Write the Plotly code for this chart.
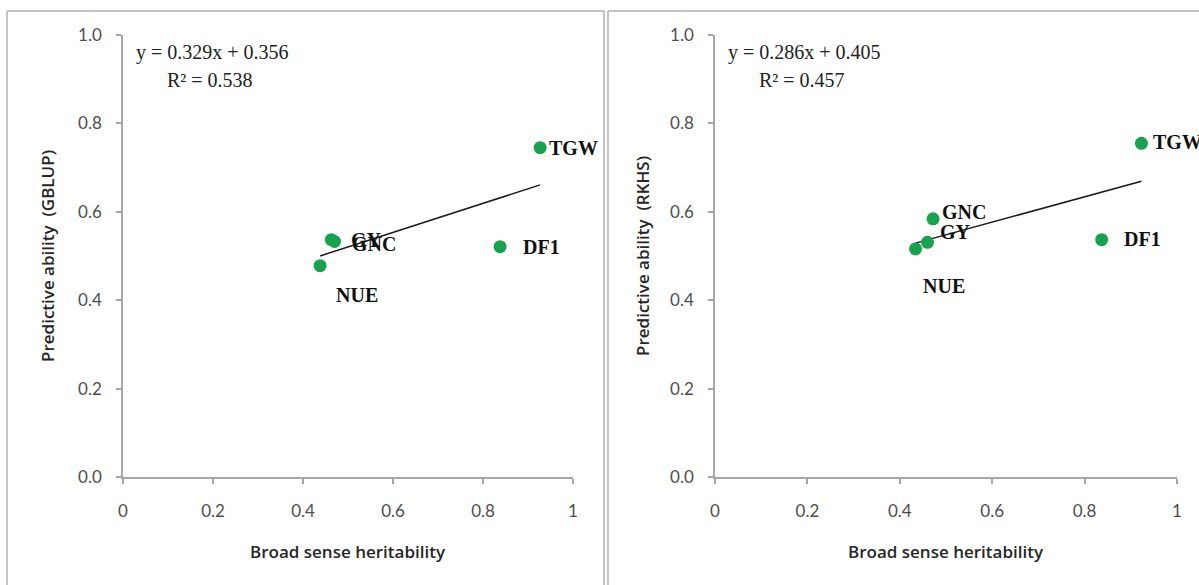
import plotly.graph_objects as go

# Trait names and values for each genomic prediction model
traits_gblup = ["NUE", "GY", "GNC", "DF1", "TGW"]
h2_gblup = [0.438, 0.463, 0.470, 0.838, 0.927]
pa_gblup = [0.478, 0.537, 0.533, 0.521, 0.745]

traits_rkhs = ["NUE", "GY", "GNC", "DF1", "TGW"]
h2_rkhs = [0.434, 0.460, 0.472, 0.837, 0.923]
pa_rkhs = [0.516, 0.531, 0.584, 0.537, 0.755]

# Linear trend lines (slope, intercept, R squared)
fit_gblup = (0.329, 0.356, 0.538)
fit_rkhs = (0.286, 0.405, 0.457)

tick_vals_x = [0, 0.2, 0.4, 0.6, 0.8, 1]
tick_text_x = ["0", "0.2", "0.4", "0.6", "0.8", "1"]
tick_vals_y = [0, 0.2, 0.4, 0.6, 0.8, 1.0]
tick_text_y = ["0.0", "0.2", "0.4", "0.6", "0.8", "1.0"]

# Label offsets (pixels) relative to each point: (xshift, yshift, xanchor)
offs_gblup = [(37, -29, "center"), (18, 0, "left"), (15, -3, "left"),
              (21, 0, "left"), (7, 0, "left")]
offs_rkhs = [(28, -37, "center"), (10, 10, "left"), (7, 7, "left"),
             (20, 1, "left"), (10, 1, "left")]

W, H = 1199, 585


def px(x):
    return x / W


def py(y):
    return 1 - y / H


GREEN = "#17a34e"
AXIS = "#a6a6a6"
FRAME = "#c4c4c4"
TICKFONT = dict(family="Lato, 'Open Sans', sans-serif", size=17, color="#4d4d4d")
LABELFONT = dict(family="'Liberation Serif', 'Times New Roman', serif", size=20, color="#111111")
EQFONT = dict(family="'Liberation Serif', 'Times New Roman', serif", size=20, color="#222222")
TITLEFONT = dict(family="'Open Sans', Lato, sans-serif", size=17, color="#262626", weight=600)

fig = go.Figure()

panels = [
    ("x", "y", traits_gblup, h2_gblup, pa_gblup, fit_gblup, offs_gblup,
     (123, 573), "Predictive ability  (GBLUP)", 47, 134),
    ("x2", "y2", traits_rkhs, h2_rkhs, pa_rkhs, fit_rkhs, offs_rkhs,
     (715, 1177), "Predictive ability  (RKHS)", 642, 726),
]

annotations = []
for xr, yr, names, hx, py_vals, fit, offs, xpix, ytitle, ytx, eqx in panels:
    slope, icpt, r2 = fit
    lo, hi = min(hx), max(hx)
    fig.add_trace(go.Scatter(
        x=[lo, hi], y=[slope * lo + icpt, slope * hi + icpt],
        mode="lines", line=dict(color="#1a1a1a", width=1.5),
        xaxis=xr, yaxis=yr, showlegend=False, hoverinfo="skip"))
    fig.add_trace(go.Scatter(
        x=hx, y=py_vals, mode="markers",
        marker=dict(color=GREEN, size=13, line=dict(width=0)),
        xaxis=xr, yaxis=yr, showlegend=False, text=names))
    for name, xv, yv, (dx, dy, anc) in zip(names, hx, py_vals, offs):
        annotations.append(dict(
            x=xv, y=yv, xref=xr, yref=yr, text="<b>%s</b>" % name,
            showarrow=False, xanchor=anc, yanchor="middle",
            xshift=dx, yshift=dy, font=LABELFONT))
    annotations.append(dict(
        x=px(eqx), y=py(52), xref="paper", yref="paper",
        text="y = %.3fx + %.3f" % (slope, icpt), showarrow=False,
        xanchor="left", yanchor="middle", font=EQFONT))
    annotations.append(dict(
        x=px(eqx + 31), y=py(80), xref="paper", yref="paper",
        text="R² = %.3f" % r2, showarrow=False,
        xanchor="left", yanchor="middle", font=EQFONT))
    annotations.append(dict(
        x=px((xpix[0] + xpix[1]) / 2), y=py(551), xref="paper", yref="paper",
        text="Broad sense heritability", showarrow=False,
        xanchor="center", yanchor="middle", font=TITLEFONT))
    annotations.append(dict(
        x=px(ytx), y=py(256), xref="paper", yref="paper",
        text=ytitle, showarrow=False, textangle=-90,
        xanchor="center", yanchor="middle", font=TITLEFONT))

axis_common = dict(
    showgrid=False, zeroline=False, showline=True, linecolor=AXIS,
    linewidth=1.5, ticks="outside", tickcolor=AXIS, ticklen=5, tickwidth=1.5,
    tickfont=TICKFONT, fixedrange=True, automargin=False)

ydom = [py(477), py(35)]
fig.update_layout(
    template="none",
    width=W, height=H, margin=dict(l=0, r=0, t=0, b=0, autoexpand=False),
    paper_bgcolor="white", plot_bgcolor="white",
    xaxis=dict(domain=[px(123), px(573)], range=[0, 1], tickvals=tick_vals_x,
               ticktext=tick_text_x, anchor="y", ticklabelstandoff=13, **axis_common),
    yaxis=dict(domain=ydom, range=[0, 1], tickvals=tick_vals_y,
               ticktext=tick_text_y, anchor="x", ticklabelstandoff=11, **axis_common),
    xaxis2=dict(domain=[px(715), px(1177)], range=[0, 1], tickvals=tick_vals_x,
                ticktext=tick_text_x, anchor="y2", ticklabelstandoff=13, **axis_common),
    yaxis2=dict(domain=ydom, range=[0, 1], tickvals=tick_vals_y,
                ticktext=tick_text_y, anchor="x2", ticklabelstandoff=11, **axis_common),
    annotations=annotations,
    shapes=[
        # chart-area frames around the two panels
        dict(type="line", xref="paper", yref="paper", x0=px(7), x1=px(604),
             y0=py(11), y1=py(11), line=dict(color=FRAME, width=2)),
        dict(type="line", xref="paper", yref="paper", x0=px(7), x1=px(7),
             y0=py(11), y1=py(600), line=dict(color=FRAME, width=2)),
        dict(type="line", xref="paper", yref="paper", x0=px(604), x1=px(604),
             y0=py(11), y1=py(600), line=dict(color=FRAME, width=2)),
        dict(type="line", xref="paper", yref="paper", x0=px(608), x1=px(1210),
             y0=py(11), y1=py(11), line=dict(color=FRAME, width=2)),
        dict(type="line", xref="paper", yref="paper", x0=px(608), x1=px(608),
             y0=py(11), y1=py(600), line=dict(color=FRAME, width=2)),
    ],
)

fig.write_html("out.html")
